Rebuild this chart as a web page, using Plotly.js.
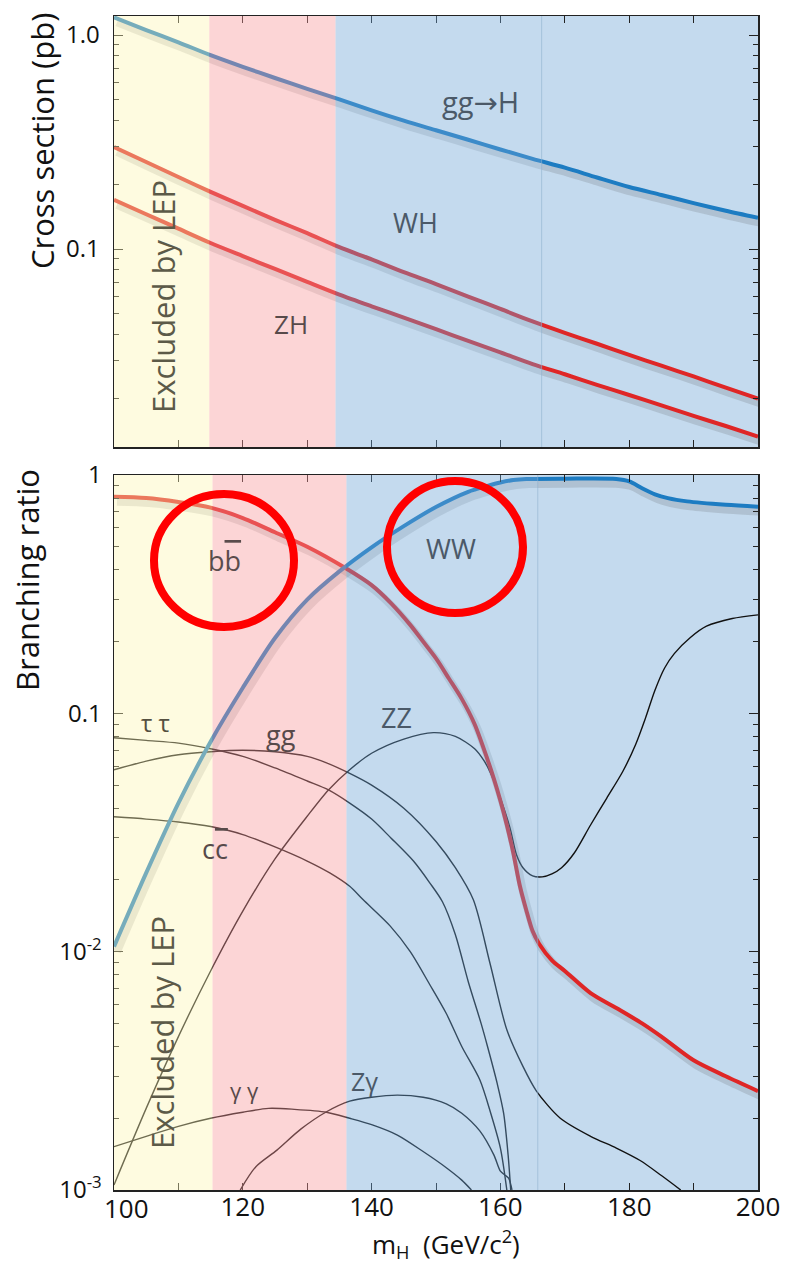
<!DOCTYPE html>
<html>
<head>
<meta charset="utf-8">
<script src="https://cdn.plot.ly/plotly-3.0.1.min.js"></script>
<style>html,body{margin:0;padding:0;background:#fff;}#chart{width:790px;height:1266px;}</style>
</head>
<body>
<div id="chart"></div>
<script>
// ---------- DATA ----------
// Top panel: production cross sections (pb) vs Higgs mass (GeV/c^2)
const mH        = [100,105,110,115,120,125,130,135,140,145,150,155,160,165,170,175,180,185,190,195,200];
const sigmaGGH  = [1.21,1.055,0.925,0.805,0.71,0.63,0.56,0.50,0.445,0.398,0.359,0.324,0.292,0.264,0.24,0.216,0.195,0.179,0.164,0.151,0.140];
const sigmaWH   = [0.30,0.255,0.217,0.185,0.159,0.137,0.1186,0.102,0.0895,0.078,0.0686,0.060,0.0525,0.0459,0.0406,0.0361,0.032,0.0285,0.0254,0.0225,0.020];
const sigmaZH   = [0.17,0.1455,0.1245,0.1067,0.0927,0.0807,0.0702,0.0612,0.054,0.0478,0.0422,0.0372,0.0329,0.029,0.026,0.0232,0.0208,0.0186,0.0166,0.0149,0.0133];

// Bottom panel: branching ratios
const bbMass  = [100,105,110,115,120,125,130,136,140,143,146,148,150,152,154,156,158,159,160,161,162,163,164,165,166,168,170,174,178,182,185,190,195,200];
const bbBR    = [0.81,0.80,0.77,0.73,0.66,0.575,0.50,0.406,0.345,0.29,0.235,0.20,0.17,0.14,0.115,0.09,0.064,0.053,0.043,0.034,0.026,0.019,0.015,0.0122,0.0108,0.0092,0.0083,0.0067,0.0058,0.0050,0.0044,0.0035,0.0030,0.0026];
const wwMass  = [100,105,110,115,120,125,130,135,140,145,150,155,158,160,162,164,170,178,180,182,184,186,189,195,200];
const wwBR    = [0.0105,0.0214,0.042,0.076,0.128,0.207,0.30,0.394,0.497,0.61,0.734,0.85,0.90,0.93,0.952,0.962,0.965,0.962,0.94,0.88,0.83,0.80,0.775,0.75,0.736];
const zzMass  = [100,105,110,115,120,125,130,133.3,136.6,140,145,149.6,153,156,157.5,158.5,160,161.5,162.5,163.5,165,166.5,168,169.5,171.5,174,176.5,179,181,182.5,184,185.5,187,189.5,192,196,200];
const zzBR    = [0.00105,0.0022,0.0044,0.0083,0.0148,0.0245,0.037,0.0477,0.058,0.068,0.078,0.083,0.080,0.071,0.063,0.056,0.044,0.033,0.0255,0.0225,0.0208,0.0206,0.0212,0.0225,0.026,0.034,0.044,0.057,0.074,0.095,0.125,0.155,0.178,0.208,0.232,0.25,0.259];
const tautauMass = [100,105,110,115,120,125,130,133.3,136.6,140,143,146.5,149,151,153,155,157,158,159.5,160.5,161.2,161.6];
const tautauBR   = [0.079,0.077,0.075,0.071,0.066,0.059,0.052,0.0477,0.042,0.036,0.030,0.024,0.0195,0.0162,0.0118,0.0075,0.0050,0.0040,0.0028,0.0021,0.0014,0.001];
const ggMass  = [100,105,110,115,120,125,130,133,136.6,140,145,150,153,155.8,158.4,161,163.5,165.6,169.3,174,178,181.7,185,188];
const ggBR    = [0.058,0.063,0.067,0.069,0.070,0.069,0.066,0.062,0.056,0.050,0.040,0.029,0.0225,0.0165,0.0089,0.0047,0.0033,0.0026,0.0020,0.00168,0.0015,0.00133,0.00115,0.001];
const ccMass  = [100,105,110,115,120,125,130,133.5,136.6,138.7,142.9,146,149,151.6,154,156.8,158.5,160,161];
const ccBR    = [0.0368,0.0360,0.0350,0.0335,0.031,0.0275,0.024,0.0214,0.0188,0.0165,0.0128,0.0100,0.0073,0.0055,0.0040,0.0029,0.0021,0.0015,0.001];
const gamgamMass = [100,105,110,115,120,124,128,133,136.6,140,144,148,151.6,154,155.5];
const gamgamBR   = [0.00152,0.00168,0.00185,0.0020,0.00212,0.0022,0.00218,0.00212,0.0020,0.00188,0.0017,0.00145,0.00124,0.0011,0.001];
const zgamMass = [119.6,122,125.3,129,133,136.6,140,144,148,151.6,154,156.8,159,160,160.8,161.3,161.8];
const zgamBR   = [0.001,0.00125,0.00147,0.0018,0.00213,0.00236,0.00245,0.0025,0.00245,0.0023,0.0021,0.00177,0.0014,0.0012,0.00115,0.00112,0.001];

// tick labels
const topYTickVals = [0.1, 1];
const topYTickText = ['0.1', '1.0'];
const botYTickVals = [0.001, 0.01, 0.1, 1];
const botYTickText = ['10<sup>-3</sup>', '10<sup>-2</sup>', '0.1', '1'];
const botXTickVals = [100, 120, 140, 160, 180, 200];
const botXTickText = ['', '120', '140', '160', '180', '200'];   // "100" is placed slightly right, as in the reference
const firstXTickLabel = '100';

// ---------- LAYOUT HELPERS ----------
const FONT = 'Open Sans, Noto Sans, DejaVu Sans, sans-serif';
const W = 790, H = 1266, ML = 114, MR = 32, MT = 16, MB = 76;
const PW = W - ML - MR, PH = H - MT - MB;
const px = x => (x - ML) / PW;
const py = y => 1 - (y - MT) / PH;
const topDom = [py(447), 1];
const botDom = [0, py(475)];
const topLogRange = [-1.925, 0.089];
const botLogRange = [-3, 0];
const pxPerGeV = PW / 100;
const shX = 3 / pxPerGeV;                       // shadow shift right (px -> GeV)
const shYTop = 5 / (431 / (topLogRange[1] - topLogRange[0]));
const shYBot = 5 / (715 / 3);

function minorLog(lo, hi) {
  const v = [];
  for (let e = lo; e < hi; e++) for (let k = 2; k <= 9; k++) v.push(k * Math.pow(10, e));
  return v;
}

const RED = '#df2626', BLUE = '#1d7cc2', BLK = '#111111';
const SHADOW = 'rgba(70,70,70,0.17)';

const traces = [];
function thick(x, y, color, xa, ya) {
  traces.push({x, y, xaxis: xa, yaxis: ya, type: 'scatter', mode: 'lines',
    line: {color, width: 4, shape: 'spline', smoothing: 0.8}, hoverinfo: 'skip', showlegend: false});
}
function shadow(x, y, xa, ya) {
  traces.push({x, y, xaxis: xa, yaxis: ya, type: 'scatter', mode: 'lines',
    line: {color: SHADOW, width: 8, shape: 'spline', smoothing: 0.8}, hoverinfo: 'skip', showlegend: false});
}
function thin(x, y) {
  traces.push({x, y, xaxis: 'x2', yaxis: 'y2', type: 'scatter', mode: 'lines',
    line: {color: BLK, width: 1.4, shape: 'spline', smoothing: 0.8}, hoverinfo: 'skip', showlegend: false});
}

// bottom thin lines (base subplot)
thin(zzMass, zzBR); thin(tautauMass, tautauBR); thin(ggMass, ggBR);
thin(ccMass, ccBR); thin(gamgamMass, gamgamBR); thin(zgamMass, zgamBR);
// shadows
shadow(mH, sigmaGGH, 'x3', 'y3'); shadow(mH, sigmaWH, 'x3', 'y3'); shadow(mH, sigmaZH, 'x3', 'y3');
shadow(bbMass, bbBR, 'x5', 'y5'); shadow(wwMass, wwBR, 'x5', 'y5');
// main thick lines
thick(mH, sigmaGGH, BLUE, 'x4', 'y4'); thick(mH, sigmaWH, RED, 'x4', 'y4'); thick(mH, sigmaZH, RED, 'x4', 'y4');
thick(bbMass, bbBR, RED, 'x6', 'y6'); thick(wwMass, wwBR, BLUE, 'x6', 'y6');

const axLine = {showline: true, linecolor: '#222', linewidth: 1.5, mirror: 'ticks', showgrid: false, zeroline: false};
const hidden = {visible: false, showgrid: false, zeroline: false, fixedrange: true};

const layout = {
  width: W, height: H,
  margin: {l: ML, r: MR, t: MT, b: MB, pad: 0},
  paper_bgcolor: '#ffffff', plot_bgcolor: '#ffffff',
  showlegend: false,
  font: {family: FONT, color: '#111'},
  xaxis: Object.assign({}, axLine, {domain: [0, 1], anchor: 'y', range: [100, 200], ticks: 'inside', ticklen: 7, tickcolor: '#222',
    dtick: 10, tick0: 100, showticklabels: false}),
  yaxis: Object.assign({}, axLine, {domain: topDom, anchor: 'x', type: 'log', range: topLogRange, ticks: 'inside', ticklen: 9, tickcolor: '#222',
    tickvals: topYTickVals, ticktext: topYTickText, tickfont: {size: 24, family: FONT, color: '#111'}, ticklabelstandoff: 8,
    minor: {ticks: 'inside', ticklen: 5, tickcolor: '#222', tickvals: minorLog(-2, 1), showgrid: false}}),
  xaxis2: Object.assign({}, axLine, {domain: [0, 1], anchor: 'y2', range: [100, 200], ticks: 'inside', ticklen: 7, tickcolor: '#222',
    tickvals: botXTickVals, ticktext: botXTickText, tickfont: {size: 26, family: FONT, color: '#111'}, ticklabelstandoff: -7,
    minor: {ticks: 'inside', ticklen: 7, dtick: 10, tick0: 100, tickcolor: '#222', showgrid: false}}),
  yaxis2: Object.assign({}, axLine, {domain: botDom, anchor: 'x2', type: 'log', range: botLogRange, ticks: 'inside', ticklen: 9, tickcolor: '#222',
    tickvals: botYTickVals, ticktext: botYTickText, tickfont: {size: 24, family: FONT, color: '#111'}, ticklabelstandoff: 6,
    minor: {ticks: 'inside', ticklen: 5, tickcolor: '#222', tickvals: minorLog(-3, 0), showgrid: false}}),
  // shadow (shifted) and main-line overlay axes, top
  xaxis3: Object.assign({}, hidden, {overlaying: 'x', anchor: 'y3', domain: [0, 1], range: [100 - shX, 200 - shX]}),
  yaxis3: Object.assign({}, hidden, {overlaying: 'y', anchor: 'x3', domain: topDom, type: 'log', range: [topLogRange[0] + shYTop, topLogRange[1] + shYTop]}),
  xaxis4: Object.assign({}, hidden, {overlaying: 'x', anchor: 'y4', domain: [0, 1], range: [100, 200]}),
  yaxis4: Object.assign({}, hidden, {overlaying: 'y', anchor: 'x4', domain: topDom, type: 'log', range: topLogRange}),
  // bottom
  xaxis5: Object.assign({}, hidden, {overlaying: 'x2', anchor: 'y5', domain: [0, 1], range: [100 - shX, 200 - shX]}),
  yaxis5: Object.assign({}, hidden, {overlaying: 'y2', anchor: 'x5', domain: botDom, type: 'log', range: [botLogRange[0] + shYBot, botLogRange[1] + shYBot]}),
  xaxis6: Object.assign({}, hidden, {overlaying: 'x2', anchor: 'y6', domain: [0, 1], range: [100, 200]}),
  yaxis6: Object.assign({}, hidden, {overlaying: 'y2', anchor: 'x6', domain: botDom, type: 'log', range: botLogRange}),
  shapes: [],
  annotations: []
};

// ---------- shaded mass regions ----------
const A = 0.4;
const YEL = `rgba(252,245,178,${A})`, PNK = `rgba(247,150,152,${A})`, BLU = `rgba(108,163,213,${A})`;
const BLU_SOLID = 'rgb(196,218,238)';
function region(xref, yref, x0, x1, color, layer) {
  layout.shapes.push({type: 'rect', xref, yref, x0, x1, y0: 0, y1: 1, fillcolor: color, line: {width: 0}, layer});
}
// top panel
region('x', 'y domain', 166.4, 200, BLU_SOLID, 'below');
region('x', 'y domain', 100, 114.8, YEL, 'above');
region('x', 'y domain', 114.8, 134.4, PNK, 'above');
region('x', 'y domain', 134.4, 166.4, BLU, 'above');
// bottom panel
region('x2', 'y2 domain', 165.8, 200, BLU_SOLID, 'below');
region('x2', 'y2 domain', 100, 115.3, YEL, 'above');
region('x2', 'y2 domain', 115.3, 136.1, PNK, 'above');
region('x2', 'y2 domain', 136.1, 165.8, BLU, 'above');
// faint boundary lines
layout.shapes.push({type: 'line', xref: 'x', yref: 'y domain', x0: 166.4, x1: 166.4, y0: 0, y1: 1, line: {color: 'rgba(140,175,205,0.6)', width: 1}, layer: 'above'});
layout.shapes.push({type: 'line', xref: 'x2', yref: 'y2 domain', x0: 165.8, x1: 165.8, y0: 0, y1: 1, line: {color: 'rgba(140,175,205,0.6)', width: 1}, layer: 'above'});

// red highlight circles
function circle(x0, y0, x1, y1) {
  layout.shapes.push({type: 'circle', xref: 'paper', yref: 'paper', x0: px(x0), x1: px(x1), y0: py(y1), y1: py(y0),
    line: {color: '#ff0000', width: 8}, fillcolor: 'rgba(0,0,0,0)', layer: 'above'});
}
circle(154, 494, 294, 627);
circle(387, 481, 523, 613);

// ---------- text ----------
function ann(text, x, y, size, color, angle) {
  layout.annotations.push({text, xref: 'paper', yref: 'paper', x: px(x), y: py(y), xanchor: 'center', yanchor: 'middle',
    showarrow: false, textangle: angle || 0, font: {family: FONT, size, color}});
}
ann('Cross section (pb)', 42, 141, 31, '#111', -90);
ann('Branching ratio', 27, 580, 31, '#111', -90);
ann('Excluded by LEP', 163, 297, 31, '#5c5a48', -90);
ann('Excluded by LEP', 162, 1033, 31, '#5c5a48', -90);
ann('gg\u2192H', 480, 102, 29, '#4b5968');
ann('WH', 415, 223, 27, '#4b5968');
ann('ZH', 291, 324, 26, '#574a4a');
ann('b<span style="text-decoration:overline">b</span>', 224, 560, 27, '#5a4c4c');
ann('WW', 451, 548, 27, '#4b5968');
ann('\u03c4 \u03c4', 155, 722, 24, '#555040');
ann('gg', 281, 734, 27, '#574a4a');
ann('ZZ', 396, 717, 27, '#4b5968');
ann('c<span style="text-decoration:overline">c</span>', 215, 848, 27, '#574a4a');
ann('\u03b3 \u03b3', 244, 1090, 22, '#574a4a');
ann('Z\u03b3', 364, 1081, 25, '#4b5968');
ann(firstXTickLabel, 126, 1208, 26, '#111');
ann('m<sub>H</sub>\u00a0\u00a0(GeV/c<sup>2</sup>)', 446, 1244, 26, '#111');

Plotly.newPlot('chart', traces, layout, {staticPlot: true, displayModeBar: false});
</script>
</body>
</html>
